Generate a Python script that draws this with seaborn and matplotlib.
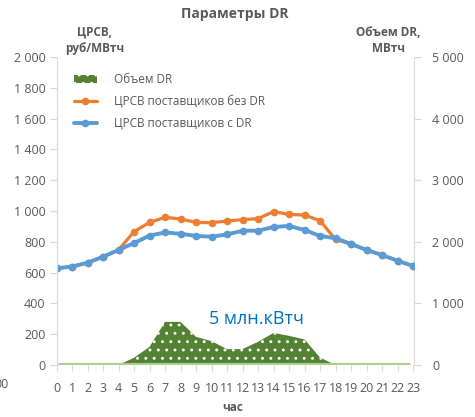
import numpy as np
import pandas as pd
import seaborn as sns
import matplotlib.pyplot as plt
from matplotlib.patches import Patch
from matplotlib.lines import Line2D
from matplotlib.ticker import FuncFormatter, MultipleLocator

# Данные по часам
hours = list(range(24))
price_no_dr = [628, 639, 664, 703, 747, 866, 926, 959, 948, 926, 924, 935,
               944, 950, 996, 978, 974, 937, 815, 786, 747, 714, 677, 643]
price_dr = [628, 639, 664, 703, 747, 792, 840, 861, 852, 838, 833, 848,
            872, 872, 896, 903, 877, 838, 823, 786, 747, 714, 677, 643]
volume_dr = [0, 0, 0, 0, 0, 118, 295, 700, 700, 457, 387, 258,
             258, 376, 521, 473, 415, 120, 0, 0, 0, 0, 0, 0]

df = pd.DataFrame({'hour': hours, 'no_dr': price_no_dr, 'dr': price_dr, 'vol': volume_dr})

sns.set_style('white')
plt.rcParams['font.family'] = ['Open Sans', 'DejaVu Sans']
plt.rcParams['hatch.color'] = 'white'
plt.rcParams['hatch.linewidth'] = 0.9

gray = '#595959'
axis_gray = '#d9d9d9'
orange = '#ED7D31'
blue = '#5B9BD5'
green = '#548235'
light_green = '#A9D18E'

fig = plt.figure(figsize=(4.75, 4.17), dpi=100)
ax = fig.add_axes([0.119, 0.1247, 0.7526, 0.7386])
ax2 = ax.twinx()

# Объем DR - область на правой оси
ax2.fill_between(df['hour'], 0, df['vol'], facecolor=green, edgecolor='white',
                 hatch='..', linewidth=0)
ax2.axhline(0, color=light_green, lw=3, xmin=0.01, xmax=0.985)
ax2.set_ylim(0, 5000)
ax2.yaxis.set_major_locator(MultipleLocator(1000))

# Линии ЦРСВ на левой оси
sns.lineplot(data=df, x='hour', y='no_dr', ax=ax, color=orange, marker='o',
             markersize=5.5, markeredgewidth=0, linewidth=2.3)
sns.lineplot(data=df, x='hour', y='dr', ax=ax, color=blue, marker='o',
             markersize=5.5, markeredgewidth=0, linewidth=2.8)
ax.set_ylim(0, 2000)
ax.set_xlim(0, 23.06)
ax.yaxis.set_major_locator(MultipleLocator(200))
ax.set_xticks(hours)
ax.set_zorder(ax2.get_zorder() + 1)
ax.patch.set_visible(False)

fmt = FuncFormatter(lambda v, p: f'{int(v):,}'.replace(',', ' '))
ax.yaxis.set_major_formatter(fmt)
ax2.yaxis.set_major_formatter(fmt)

for a in (ax, ax2):
    for s in a.spines.values():
        s.set_visible(False)
ax.spines['left'].set_visible(True)
ax.spines['left'].set_color(axis_gray)
ax2.spines['right'].set_visible(True)
ax2.spines['right'].set_color(axis_gray)

ax.tick_params(axis='y', left=True, length=5, color=axis_gray, labelsize=9,
               labelcolor=gray, pad=3)
ax.tick_params(axis='x', bottom=True, length=4, color=axis_gray, labelsize=9,
               labelcolor=gray, pad=8)
ax2.tick_params(axis='y', right=True, length=5, color=axis_gray, labelsize=9,
                labelcolor=gray, pad=8)
ax.set_xlabel('')
ax.set_ylabel('')
ax2.set_ylabel('')

# Подписи
fig.text(0.495, 0.967, 'Параметры DR', ha='center', va='center', fontsize=10,
         fontweight='bold', color=gray)
fig.text(0.2, 0.904, 'ЦРСВ,\nруб/МВтч', ha='center', va='center', fontsize=8.5,
         fontweight='bold', color=gray, linespacing=1.3)
fig.text(0.818, 0.904, 'Объем DR,\nМВтч', ha='center', va='center', fontsize=8.5,
         fontweight='bold', color=gray, linespacing=1.3)
fig.text(0.489, 0.022, 'час', ha='center', va='center', fontsize=8.5,
         fontweight='bold', color=gray)
fig.text(-0.012, 0.079, '00', ha='left', va='center', fontsize=9, color=gray)
ax.text(12.9, 300, '5 млн.кВтч', ha='center', va='center', fontsize=13,
        color='#0070C0')

handles = [
    Patch(facecolor=green, edgecolor='white', hatch='..', linewidth=0),
    Line2D([], [], color=orange, marker='o', markersize=5.5, markeredgewidth=0, lw=2.3),
    Line2D([], [], color=blue, marker='o', markersize=5.5, markeredgewidth=0, lw=2.8),
]
labels = ['Объем DR', 'ЦРСВ поставщиков без DR', 'ЦРСВ поставщиков с DR']
fig.legend(handles, labels, loc='upper left', bbox_to_anchor=(0.155, 0.825),
           frameon=False, fontsize=8.5, labelcolor=gray, handlelength=2.0,
           handletextpad=1.4, labelspacing=0.75, borderpad=0, borderaxespad=0)

plt.savefig('out.png', dpi=100)
